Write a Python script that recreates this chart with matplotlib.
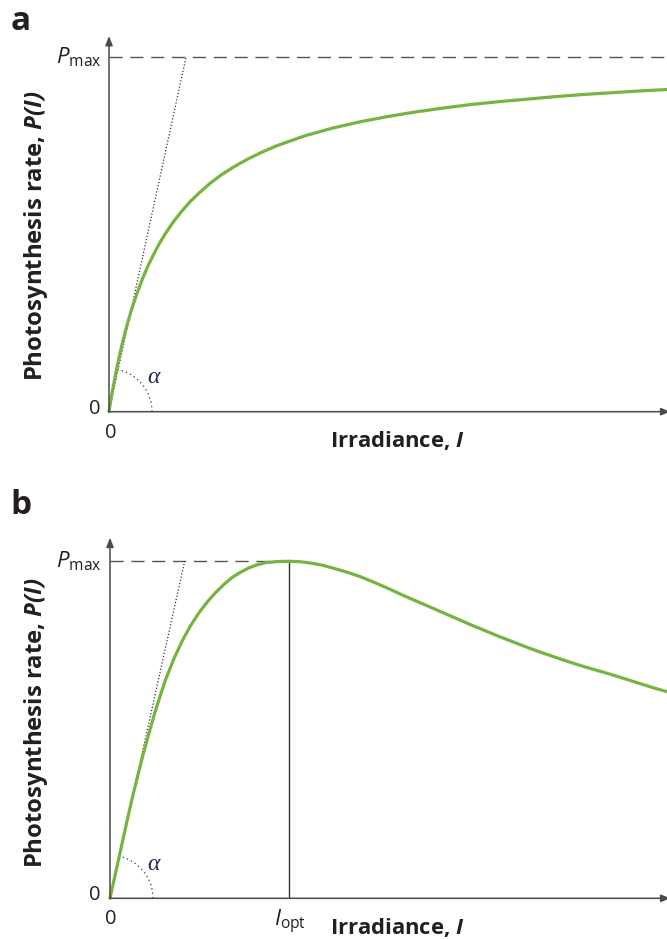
import numpy as np
import matplotlib
matplotlib.use("Agg")
import matplotlib.pyplot as plt

plt.rcParams['font.family'] = ['Open Sans', 'DejaVu Sans']
plt.rcParams['mathtext.fontset'] = 'custom'
plt.rcParams['mathtext.rm'] = 'Open Sans'
plt.rcParams['mathtext.it'] = 'Open Sans:italic'
plt.rcParams['mathtext.bf'] = 'Open Sans:italic:bold'

# ---- data, irradiance in arbitrary units 0..1000 ----
irr_a = [0, 2, 5, 8, 12, 16, 20, 25, 30, 35, 40, 50, 60, 70, 80, 90, 100,
         115, 130, 145, 160, 180, 200, 225, 250, 275, 300, 350, 400, 450,
         500, 550, 600, 650, 700, 750, 800, 850, 900, 950, 1000]
rate_a = [0, 0.02, 0.048, 0.074, 0.107, 0.138, 0.167, 0.2, 0.231, 0.259,
          0.286, 0.333, 0.375, 0.412, 0.444, 0.474, 0.5, 0.535, 0.565, 0.592,
          0.615, 0.643, 0.667, 0.692, 0.714, 0.733, 0.75, 0.778, 0.8, 0.818,
          0.833, 0.846, 0.857, 0.867, 0.875, 0.882, 0.889, 0.895, 0.9, 0.905,
          0.909]

irr_b = [0, 10, 20, 30, 40, 50, 60, 70, 80, 90, 100, 115, 130, 145, 160, 175,
         190, 205, 220, 235, 250, 265, 280, 300, 322, 340, 360, 380, 400, 425,
         450, 475, 500, 525, 550, 575, 600, 625, 650, 675, 700, 725, 750, 775,
         800, 825, 850, 875, 900, 925, 950, 975, 1000]
rate_b = [0, 0.075, 0.15, 0.225, 0.298, 0.365, 0.43, 0.49, 0.548, 0.6, 0.65,
          0.712, 0.765, 0.81, 0.848, 0.88, 0.908, 0.932, 0.953, 0.968, 0.981,
          0.99, 0.996, 0.9993, 1.0, 0.999, 0.995, 0.989, 0.980, 0.968, 0.954,
          0.937, 0.919, 0.9, 0.882, 0.864, 0.846, 0.828, 0.81, 0.793, 0.776,
          0.76, 0.744, 0.729, 0.715, 0.701, 0.688, 0.676, 0.664, 0.651, 0.638,
          0.625, 0.613]

pmax = 1.0
i_opt = 322
tangent_a = 138   # irradiance where initial slope line reaches Pmax
tangent_b = 134

GREEN = '#77b341'
AX = '#4a4a4a'
TXT = '#231f20'

W, H = 667, 939
fig = plt.figure(figsize=(W / 100, H / 100), dpi=100)


def fx(x):
    return x / W


def fy(y):
    return 1 - y / H


def panel(left_px, origin_px, pscale, ytop, irr, rate, tan_i, letter, letter_y,
          optimum=None):
    width_px = W - left_px
    ax = fig.add_axes([fx(left_px), fy(origin_px), width_px / W, ytop * pscale / H])
    ax.set_xlim(0, 1000)
    ax.set_ylim(0, ytop)
    ax.axis('off')
    # axes with arrows
    ax.annotate('', xy=(0, ytop), xytext=(0, 0),
                arrowprops=dict(arrowstyle='-|>,head_length=0.55,head_width=0.22',
                                color=AX, lw=1.1, shrinkA=0, shrinkB=0),
                annotation_clip=False)
    ax.annotate('', xy=(1006, 0), xytext=(0, 0),
                arrowprops=dict(arrowstyle='-|>,head_length=0.55,head_width=0.22',
                                color=AX, lw=1.1, shrinkA=0, shrinkB=0),
                annotation_clip=False)
    # Pmax dashed
    xend = optimum if optimum is not None else 1000
    ax.plot([0, xend], [pmax, pmax], color='#555555', lw=1.0,
            dashes=(9.5, 5.5), clip_on=False)
    # tangent dotted
    ax.plot([0, tan_i], [0, pmax], color='#333333', lw=0.9,
            linestyle=(0, (1, 1.6)), clip_on=False)
    # alpha arc (screen-space circle of radius 43 px)
    ux = 1000 / width_px
    uy = 1 / pscale
    ang = np.arctan2(pscale, tan_i / ux)
    t = np.linspace(0, ang, 40)
    r = 43
    ax.plot(r * np.cos(t) * ux, r * np.sin(t) * uy, color='#555555', lw=1.0,
            linestyle=(0, (1, 2.2)), clip_on=False)
    if optimum is not None:
        ax.plot([optimum, optimum], [0, pmax], color='#333333', lw=1.0)
    # curve
    ax.plot(irr, rate, color=GREEN, lw=2.3, solid_capstyle='round',
            solid_joinstyle='round', clip_on=False)

    # texts
    fig.text(fx(21), fy(letter_y), letter, fontsize=24, fontweight='bold',
             color=TXT, ha='center', va='center')
    fig.text(fx(101), fy(origin_px - pmax * pscale), r'$P_{\mathrm{max}}$',
             fontsize=16, color=TXT, ha='right', va='center')
    fig.text(fx(101), fy(origin_px - 3), '0', fontsize=14.5, color=TXT,
             ha='right', va='center')
    fig.text(fx(111), fy(origin_px + 21), '0', fontsize=14.5, color=TXT,
             ha='center', va='center')
    fig.text(fx(153), fy(origin_px - 34), 'α', fontsize=17, color='#1f2a55',
             family='Liberation Serif', style='italic', ha='center', va='center')
    fig.text(fx(397), fy(origin_px + 29), r'Irradiance, $\mathbf{I}$',
             fontsize=15.8, fontweight='bold', color=TXT, ha='center', va='center')
    fig.text(fx(36), fy(origin_px - 176), r'Photosynthesis rate, $\mathbf{P(I)}$',
             fontsize=17.2, fontweight='bold', color=TXT, ha='center', va='center',
             rotation=90)
    if optimum is not None:
        xo = left_px + optimum / ux
        fig.text(fx(xo + 1), fy(origin_px + 10), r'$I_{\mathrm{opt}}$',
                 fontsize=16, color=TXT, ha='center', va='top')
    return ax


panel(109, 411.7, 354.4, 1.06, irr_a, rate_a, tangent_a, 'a', 22)
panel(110, 898.3, 337.0, 1.07, irr_b, rate_b, tangent_b, 'b', 505, optimum=i_opt)

fig.savefig('out.png', dpi=100)
